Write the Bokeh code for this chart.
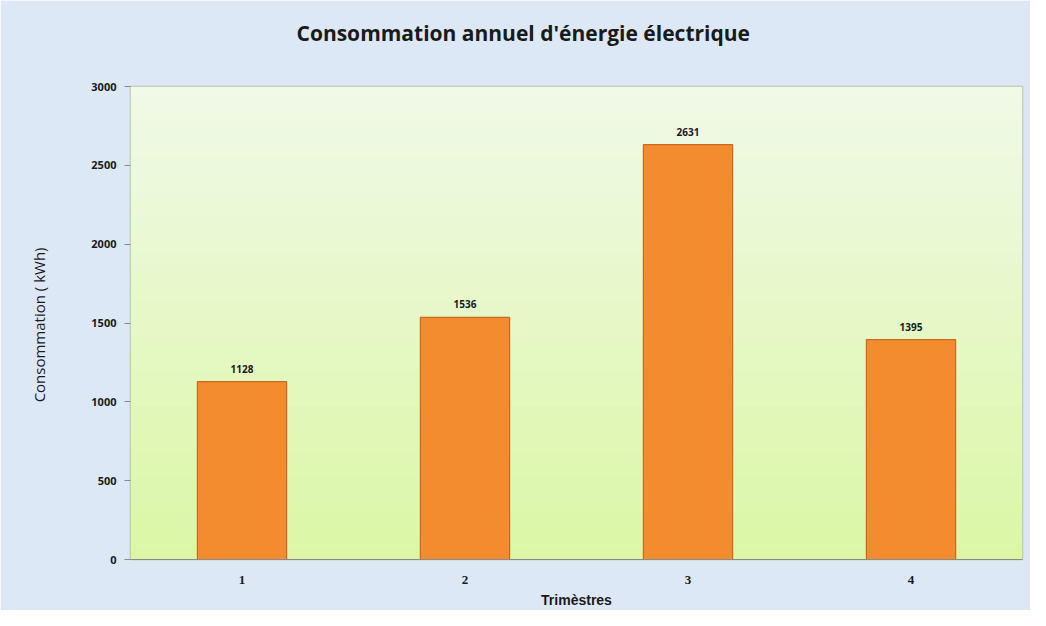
from bokeh.plotting import figure
from bokeh.models import ColumnDataSource, BoxAnnotation, LabelSet, Title
from bokeh.embed import file_html
from bokeh.resources import INLINE
from bokeh.core.properties import value

trimestres = ["1", "2", "3", "4"]
consommation = [1128, 1536, 2631, 1395]
y_ticks = [0, 500, 1000, 1500, 2000, 2500, 3000]

src = ColumnDataSource(dict(x=trimestres, top=consommation,
                            lab=[str(v) for v in consommation]))

p = figure(x_range=trimestres, y_range=(0, 3000), width=1030, height=610,
           output_backend="svg", toolbar_location=None, title=None,
           min_border_left=130, min_border_right=8, min_border_top=86, min_border_bottom=51)

# spacer between the title and the plot frame
p.add_layout(Title(text=" ", text_font_size="1px", standoff=22), "above")
p.add_layout(Title(text="Consommation annuel d'énergie électrique", align="left",
                   text_font="Open Sans", text_font_size="21px", text_font_style="bold",
                   text_color="#1a1a1a", offset=166, standoff=30), "above")

p.background_fill_color = "#e6f8c4"
p.border_fill_color = "#dce8f6"
p.outline_line_color = "#b5c4a2"
p.outline_line_width = 1.5

# vertical gradient of the plot area (decoration)
n = 40
c0 = (0xdb, 0xf7, 0xa6)
c1 = (0xf1, 0xfa, 0xe8)
for i in range(n):
    t = i / (n - 1)
    col = "#%02x%02x%02x" % tuple(int(a + (b - a) * t) for a, b in zip(c0, c1))
    p.add_layout(BoxAnnotation(bottom=3000 * i / n, top=3000 * (i + 1) / n,
                               fill_color=col, fill_alpha=1, line_alpha=0, level="underlay"))

p.ygrid.grid_line_color = "#c9d6b4"
p.ygrid.grid_line_width = 1
p.ygrid.level = "underlay"
p.xgrid.grid_line_color = None

p.vbar(x="x", top="top", width=0.40, source=src, fill_color="#f28c2e",
       line_color="#c9691f", line_width=1.2)

labels = LabelSet(x="x", y="top", text="lab", source=src, text_align="center",
                  text_baseline="bottom", y_offset=9, text_font=value("Open Sans"),
                  text_font_size="10px", text_font_style="bold", text_color="#1a1a1a")
p.add_layout(labels)

p.yaxis.ticker = y_ticks
p.yaxis.axis_label = "Consommation  ( kWh)"
p.yaxis.axis_label_text_font = "Open Sans"
p.yaxis.axis_label_text_font_size = "15px"
p.yaxis.axis_label_text_font_style = "normal"
p.yaxis.axis_label_text_color = "#1a1a1a"
p.yaxis.axis_label_standoff = 39
p.yaxis.major_label_text_font = "Open Sans"
p.yaxis.major_label_text_font_size = "11px"
p.yaxis.major_label_text_font_style = "bold"
p.yaxis.major_label_text_color = "#1a1a1a"
p.yaxis.major_label_standoff = 8
p.yaxis.axis_line_color = None
p.yaxis.major_tick_line_color = "#8a8a8a"
p.yaxis.major_tick_out = 6
p.yaxis.major_tick_in = 0
p.yaxis.minor_tick_line_color = None

p.xaxis.axis_label = "Trimèstres"
p.xaxis.axis_label_text_font = "Liberation Sans"
p.xaxis.axis_label_text_font_size = "14px"
p.xaxis.axis_label_text_font_style = "bold"
p.xaxis.axis_label_text_color = "#1a1a1a"
p.xaxis.axis_label_standoff = 5
p.xaxis.major_label_text_font = "Liberation Serif"
p.xaxis.major_label_text_font_size = "13px"
p.xaxis.major_label_text_font_style = "bold"
p.xaxis.major_label_text_color = "#1a1a1a"
p.xaxis.major_label_standoff = 10
p.xaxis.axis_line_color = "#8a8a8a"
p.xaxis.major_tick_line_color = None
p.xaxis.minor_tick_line_color = None

open("out.html", "w").write(file_html(p, INLINE))
